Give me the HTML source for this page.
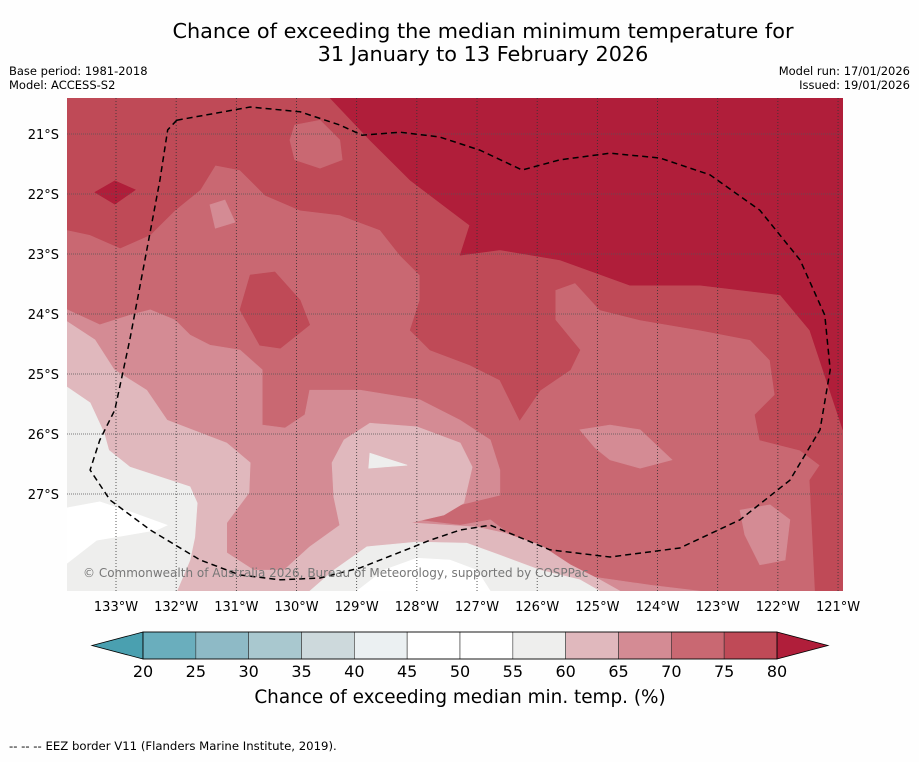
<!DOCTYPE html>
<html><head><meta charset="utf-8">
<style>
html,body{margin:0;padding:0;background:#fefefe;}
body{width:919px;height:758px;overflow:hidden;font-family:"DejaVu Sans","Liberation Sans",sans-serif;}
svg text{font-family:"DejaVu Sans","Liberation Sans",sans-serif;}
</style></head>
<body>
<svg id="chart" width="919" height="758" viewBox="0 0 919 758" xmlns="http://www.w3.org/2000/svg">
<text x="483" y="38" font-size="20.8" text-anchor="middle" fill="#000">Chance of exceeding the median minimum temperature for</text>
<text x="483" y="61" font-size="20.8" text-anchor="middle" fill="#000">31 January to 13 February 2026</text>
<text x="9" y="75" font-size="11.5">Base period: 1981-2018</text>
<text x="9" y="89" font-size="11.5">Model: ACCESS-S2</text>
<text x="910" y="75" font-size="11.5" text-anchor="end">Model run: 17/01/2026</text>
<text x="910" y="89" font-size="11.5" text-anchor="end">Issued: 19/01/2026</text>
<g id="mapg"></g>
<g id="cbar"></g>
<text x="460" y="703" font-size="18.4" text-anchor="middle">Chance of exceeding median min. temp. (%)</text>
<text x="9" y="750" font-size="11.7">--  --  -- EEZ border V11 (Flanders Marine Institute, 2019).</text>
</svg>
<script>
// axis domain: degrees West (lon) and degrees South (lat)
const lonTicks=[133,132,131,130,129,128,127,126,125,124,123,122,121];
const latTicks=[21,22,23,24,25,26,27];
const levels=[20,25,30,35,40,45,50,55,60,65,70,75,80];
const levelColors=["#6aaebd","#8ebac6","#a9c8cf","#cdd9dc","#ebf0f2","#ffffff","#ffffff","#eeeeed","#e0b8bd","#d48b94","#c96872","#bf4a57"];
const overColor="#b01e3a", underColor="#4aa0b0";
// contour regions [west, south]
const base70=[[133.81,20.4],[120.92,20.4],[120.92,28.62],[133.81,28.62]];
const band75=[[133.81,22.6],[133.43,22.68],[132.93,22.9],[132.43,22.68],[132.02,22.27],[131.6,21.93],[131.35,21.52],[130.94,21.6],[130.52,22.02],[129.94,22.27],[129.28,22.35],[128.61,22.6],[128.28,23.02],[127.95,23.35],[127.95,23.77],[128.11,24.27],[127.78,24.6],[127.12,24.85],[126.62,25.1],[126.29,25.77],[125.95,25.27],[125.45,24.93],[125.29,24.6],[125.7,24.1],[125.7,23.6],[125.37,23.48],[124.96,23.93],[124.29,24.1],[123.29,24.27],[122.46,24.43],[122.13,24.77],[122.05,25.35],[122.38,25.68],[122.3,26.1],[121.63,26.27],[121.3,26.52],[121.47,26.77],[121.38,28.62],[120.92,28.62],[120.92,20.4],[133.81,20.4]];
const hole70a=[[130.03,20.85],[129.61,20.77],[129.28,21.1],[129.24,21.43],[129.61,21.57],[130.03,21.43],[130.11,21.1]];
const blob75=[[130.77,23.35],[130.36,23.3],[129.94,23.77],[129.78,24.18],[130.27,24.57],[130.61,24.52],[130.94,23.93]];
const blob65a=[[131.44,22.18],[131.19,22.1],[131.02,22.47],[131.35,22.57]];
const band80=[[129.44,20.4],[128.78,21.1],[128.11,21.77],[127.45,22.27],[127.12,22.52],[127.28,23.02],[126.62,22.93],[125.62,23.1],[124.46,23.52],[123.29,23.52],[121.96,23.68],[121.47,24.27],[120.92,25.93],[120.92,20.4]];
const blob80=[[133.35,21.97],[133.02,21.78],[132.68,21.93],[133.02,22.17]];
const band65=[[133.81,23.93],[133.27,24.18],[132.77,24.02],[132.43,23.93],[132.02,24.1],[131.77,24.35],[131.44,24.52],[130.94,24.6],[130.57,24.93],[130.57,25.85],[130.19,25.9],[129.86,25.68],[129.78,25.27],[128.94,25.27],[127.95,25.43],[127.28,25.77],[126.78,26.1],[126.62,26.6],[126.62,27.02],[127.28,27.18],[128.03,27.43],[127.28,27.52],[126.78,27.43],[126.45,27.68],[125.87,27.9],[125.29,28.35],[124.12,28.52],[123.29,28.62],[133.81,28.62]];
const blob65b=[[125.29,25.93],[124.79,25.85],[124.29,25.93],[123.76,26.43],[124.29,26.57],[124.79,26.43],[125.04,26.23]];
const blob65c=[[122.63,27.27],[122.13,27.18],[121.8,27.43],[121.88,28.1],[122.3,28.18],[122.55,27.68]];
const band60=[[133.81,24.13],[133.35,24.43],[133.03,24.93],[132.49,25.27],[132.15,25.77],[131.16,26.15],[130.77,26.48],[130.79,26.98],[131.16,27.48],[131.16,27.98],[130.71,28.27],[130.21,28.27],[129.78,27.88],[129.28,27.52],[129.38,27.05],[129.41,26.48],[129.21,26.1],[128.78,25.82],[128.0,25.88],[127.28,26.15],[127.08,26.55],[127.22,27.15],[127.55,27.35],[128.11,27.48],[127.0,27.55],[126.55,27.65],[125.95,27.85],[125.45,28.18],[124.96,28.43],[124.62,28.62],[133.81,28.62]];
const band55a=[[133.81,25.22],[133.43,25.48],[133.2,25.98],[133.12,26.27],[132.77,26.55],[131.77,26.88],[131.65,27.15],[131.69,27.72],[131.77,28.1],[131.99,28.62],[133.81,28.62]];
const band55b=[[129.78,28.62],[129.38,28.27],[128.83,27.88],[128.0,27.8],[127.17,27.82],[126.62,28.02],[125.95,28.27],[125.29,28.43],[124.96,28.62]];
const band50a=[[133.81,27.23],[133.27,27.13],[132.7,27.32],[132.15,27.52],[132.32,27.6],[133.32,27.77],[133.81,28.15]];
const band50b=[[129.0,28.62],[128.55,28.27],[128.0,28.07],[127.45,28.1],[127.0,28.27],[126.78,28.62]];
const band50c=[[128.78,26.32],[128.16,26.52],[128.8,26.57]];
const eezLine=[[131.99,20.77],[130.77,20.55],[129.94,20.63],[129.28,20.85],[128.91,21.02],[128.28,20.97],[127.62,21.05],[126.95,21.27],[126.25,21.6],[125.62,21.43],[124.79,21.32],[123.96,21.4],[123.13,21.68],[122.3,22.27],[121.63,23.1],[121.22,24.02],[121.13,24.93],[121.3,25.93],[121.8,26.77],[122.63,27.43],[123.63,27.9],[124.79,28.05],[125.79,27.93],[126.78,27.52],[127.28,27.6],[127.78,27.77],[128.28,27.97],[128.94,28.23],[129.61,28.4],[130.27,28.43],[130.94,28.35],[131.6,28.1],[132.43,27.6],[133.1,27.1],[133.43,26.6],[133.27,26.1],[133.02,25.6],[132.77,24.43],[132.52,23.1],[132.27,21.77],[132.14,20.93],[131.99,20.77]];

const NS="http://www.w3.org/2000/svg";
const L=67,R=843,T=98,B=591;
function X(w){return 116+(133-w)*60.17;}
function Y(s){return 134+(s-21)*60;}
function mk(tag,attrs,parent){const e=document.createElementNS(NS,tag);for(const k in attrs)e.setAttribute(k,attrs[k]);parent.appendChild(e);return e;}
function pts(arr){return arr.map(p=>X(p[0]).toFixed(1)+","+Y(p[1]).toFixed(1)).join(" ");}
const g=document.getElementById('mapg');
const defs=mk('defs',{},g);
const cp=mk('clipPath',{id:'clip'},defs);
mk('rect',{x:L,y:T,width:R-L,height:B-T},cp);
const inner=mk('g',{'clip-path':'url(#clip)'},g);
const layers=[
 [base70,"#c96872","contour-70-75"],
 [band75,"#bf4a57","contour-75-80"],
 [hole70a,"#c96872","contour-70-75-patch"],
 [blob65a,"#d48b94","contour-65-70-patch"],
 [blob75,"#bf4a57","contour-75-80-patch"],
 [band80,overColor,"contour-above-80"],
 [blob80,overColor,"contour-above-80-patch"],
 [band65,"#d48b94","contour-65-70"],
 [blob65b,"#d48b94","contour-65-70-east"],
 [blob65c,"#d48b94","contour-65-70-southeast"],
 [band60,"#e0b8bd","contour-60-65"],
 [band55a,"#eeeeed","contour-55-60-west"],
 [band55b,"#eeeeed","contour-55-60-south"],
 [band50a,"#ffffff","contour-45-55-west"],
 [band50b,"#ffffff","contour-45-55-south"],
 [band50c,"#eeeeed","contour-55-60-spot"]
];
for(const [arr,col,name] of layers){
 const p=mk('polygon',{points:pts(arr),fill:col,stroke:col,'stroke-width':0.6},inner);
 
 
}
for(const w of lonTicks){
 const l=mk('line',{x1:X(w),x2:X(w),y1:T,y2:B,stroke:'#333','stroke-width':0.8,'stroke-dasharray':'1,2'},inner);
 
 
 const t=mk('text',{x:X(w),y:611,'font-size':13,'text-anchor':'middle'},g);
 t.textContent=w+"°W";
 
 
}
for(const s of latTicks){
 const l=mk('line',{x1:L,x2:R,y1:Y(s),y2:Y(s),stroke:'#555','stroke-width':0.8,'stroke-dasharray':'1,1'},inner);
 
 
 const t=mk('text',{x:59,y:Y(s)+5,'font-size':13,'text-anchor':'end'},g);
 t.textContent=s+"°S";
 
 
}
const eez=mk('polyline',{points:pts(eezLine),fill:'none',stroke:'#000','stroke-width':1.5,'stroke-dasharray':'6,4'},inner);


const cr=mk('text',{x:83,y:577,'font-size':12,fill:'#777'},g);
cr.textContent="© Commonwealth of Australia 2026, Bureau of Meteorology, supported by COSPPac";



const cb=document.getElementById('cbar');
const cx0=143,cx1=777,cy0=632,cy1=659;
function CX(v){return cx0+(v-levels[0])/(levels[levels.length-1]-levels[0])*(cx1-cx0);}
const lt=mk('polygon',{points:`92,${(cy0+cy1)/2} ${cx0},${cy0} ${cx0},${cy1}`,fill:underColor,stroke:'#000','stroke-width':0.8},cb);


const rt=mk('polygon',{points:`828,${(cy0+cy1)/2} ${cx1},${cy0} ${cx1},${cy1}`,fill:overColor,stroke:'#000','stroke-width':0.8},cb);


levelColors.forEach((c,i)=>{
 const r=mk('rect',{x:CX(levels[i]),y:cy0,width:CX(levels[i+1])-CX(levels[i]),height:cy1-cy0,fill:c,stroke:'#333','stroke-width':0.6},cb);
 
 
});
mk('rect',{x:cx0,y:cy0,width:cx1-cx0,height:cy1-cy0,fill:'none',stroke:'#000','stroke-width':0.8},cb);
levels.forEach(v=>{
 const t=mk('text',{x:CX(v),y:677,'font-size':16,'text-anchor':'middle'},cb);
 t.textContent=v;
 
 
});
</script>
</body></html>
